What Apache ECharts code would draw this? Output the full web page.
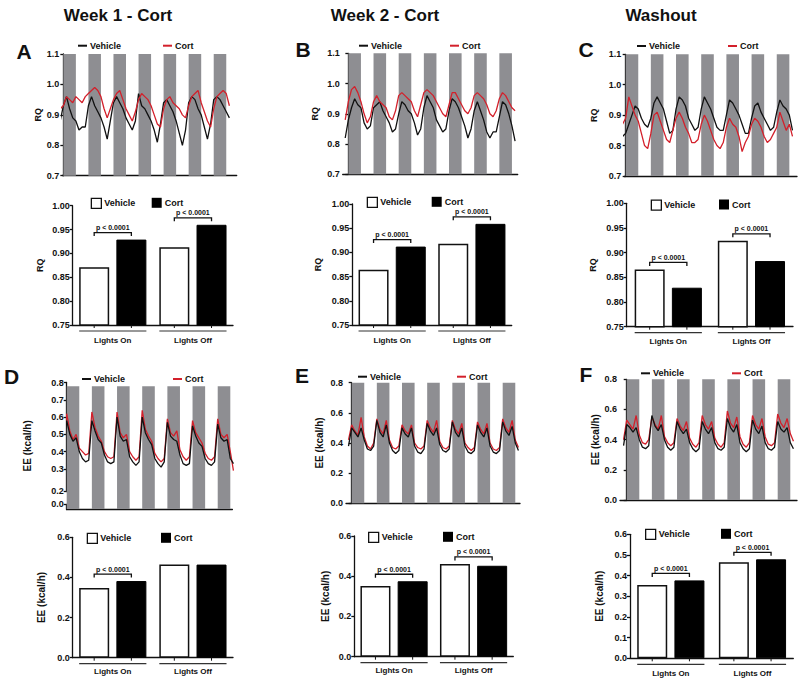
<!DOCTYPE html>
<html><head><meta charset="utf-8">
<script src="https://cdn.jsdelivr.net/npm/echarts@6/dist/echarts.min.js"></script>
<style>html,body{margin:0;padding:0;background:#fff}#c{width:800px;height:681px}</style>
</head><body><div id="c"></div>
<script>
// ---------- DATA ----------
const hours = [-3,0,3,6,9,12,15,18,21,24,27,30,33,36,39,42,45,48,51,54,57,60,63,66,69,72,75,78,81,84,87,90,93,96,99,102,105,108,111,114,117,120,123,126,129,132,135,138,141,144,147,150,153,156,159];
const darkStarts = [0,24,48,72,96,120,144];
const darkHours = 12;

const rqVehA = [0.88,0.93,0.96,0.92,0.89,0.88,0.85,0.86,0.86,0.93,0.96,0.93,0.91,0.89,0.86,0.82,0.88,0.94,0.96,0.94,0.92,0.89,0.87,0.85,0.88,0.97,0.93,0.92,0.90,0.88,0.85,0.81,0.87,0.94,0.95,0.93,0.91,0.88,0.84,0.80,0.85,0.94,0.96,0.95,0.92,0.90,0.86,0.82,0.87,0.95,0.96,0.95,0.93,0.91,0.89];
const rqCortA = [0.92,0.93,0.96,0.95,0.94,0.96,0.95,0.94,0.96,0.97,0.98,0.99,0.98,0.96,0.92,0.89,0.92,0.95,0.97,0.98,0.95,0.92,0.90,0.88,0.91,0.95,0.97,0.96,0.95,0.93,0.90,0.87,0.86,0.92,0.95,0.96,0.94,0.93,0.92,0.90,0.89,0.93,0.96,0.97,0.98,0.94,0.91,0.88,0.86,0.92,0.96,0.97,0.98,0.97,0.93];
const rqVehB = [0.82,0.88,0.92,0.95,0.93,0.92,0.87,0.85,0.86,0.92,0.93,0.94,0.91,0.89,0.87,0.84,0.85,0.90,0.94,0.93,0.91,0.90,0.87,0.83,0.85,0.92,0.96,0.94,0.92,0.88,0.86,0.84,0.85,0.91,0.95,0.94,0.92,0.89,0.86,0.82,0.85,0.91,0.94,0.91,0.88,0.84,0.82,0.84,0.84,0.89,0.94,0.93,0.90,0.86,0.81];
const rqCortB = [0.88,0.94,0.98,0.99,0.97,0.94,0.90,0.87,0.89,0.94,0.96,0.94,0.93,0.92,0.89,0.88,0.91,0.96,0.97,0.96,0.95,0.94,0.91,0.89,0.93,0.97,0.98,0.97,0.96,0.94,0.92,0.90,0.89,0.93,0.97,0.97,0.95,0.93,0.91,0.90,0.92,0.96,0.97,0.96,0.95,0.93,0.90,0.89,0.91,0.95,0.97,0.96,0.94,0.92,0.91];
const rqVehC = [0.83,0.84,0.87,0.90,0.93,0.92,0.89,0.87,0.86,0.89,0.94,0.96,0.94,0.92,0.88,0.84,0.85,0.92,0.96,0.95,0.93,0.89,0.87,0.85,0.86,0.92,0.96,0.94,0.92,0.89,0.86,0.85,0.85,0.90,0.95,0.94,0.92,0.90,0.87,0.84,0.84,0.89,0.93,0.94,0.91,0.89,0.87,0.85,0.86,0.91,0.95,0.93,0.92,0.90,0.85];
const rqCortC = [0.87,0.89,0.96,0.93,0.90,0.88,0.84,0.80,0.79,0.84,0.90,0.91,0.88,0.85,0.82,0.81,0.85,0.89,0.91,0.89,0.86,0.84,0.81,0.81,0.82,0.87,0.90,0.88,0.85,0.82,0.80,0.79,0.81,0.86,0.89,0.87,0.86,0.83,0.78,0.81,0.83,0.87,0.89,0.88,0.86,0.83,0.81,0.82,0.84,0.86,0.91,0.88,0.85,0.87,0.83];
const eeVehD = [0.40,0.58,0.50,0.46,0.48,0.40,0.36,0.34,0.35,0.58,0.52,0.47,0.45,0.38,0.34,0.33,0.34,0.60,0.49,0.46,0.47,0.37,0.34,0.32,0.34,0.60,0.51,0.47,0.44,0.36,0.33,0.31,0.34,0.57,0.49,0.47,0.46,0.38,0.33,0.32,0.33,0.55,0.49,0.45,0.43,0.36,0.33,0.32,0.34,0.56,0.48,0.46,0.47,0.36,0.33];
const eeCortD = [0.42,0.62,0.52,0.47,0.50,0.42,0.40,0.38,0.39,0.63,0.54,0.49,0.46,0.40,0.37,0.36,0.37,0.63,0.51,0.48,0.50,0.40,0.37,0.35,0.37,0.64,0.53,0.49,0.46,0.39,0.36,0.34,0.36,0.59,0.51,0.49,0.52,0.41,0.37,0.35,0.37,0.58,0.51,0.48,0.45,0.39,0.36,0.35,0.37,0.59,0.50,0.48,0.50,0.40,0.29];
const eeVehE = [0.38,0.50,0.47,0.44,0.50,0.42,0.36,0.35,0.38,0.55,0.47,0.44,0.52,0.40,0.35,0.33,0.35,0.50,0.46,0.44,0.50,0.38,0.34,0.33,0.36,0.53,0.48,0.45,0.50,0.39,0.35,0.34,0.36,0.54,0.47,0.44,0.50,0.38,0.34,0.33,0.35,0.52,0.47,0.44,0.50,0.38,0.34,0.33,0.35,0.54,0.48,0.45,0.51,0.40,0.35];
const eeCortE = [0.42,0.52,0.48,0.45,0.57,0.44,0.38,0.36,0.40,0.56,0.49,0.46,0.55,0.42,0.37,0.36,0.38,0.52,0.48,0.46,0.52,0.40,0.37,0.36,0.38,0.55,0.50,0.47,0.55,0.41,0.37,0.36,0.38,0.55,0.49,0.46,0.53,0.40,0.37,0.35,0.37,0.54,0.49,0.46,0.53,0.40,0.36,0.35,0.37,0.56,0.50,0.47,0.55,0.42,0.37];
const eeVehF = [0.36,0.50,0.48,0.45,0.48,0.40,0.35,0.34,0.36,0.56,0.49,0.46,0.50,0.40,0.35,0.33,0.35,0.52,0.47,0.44,0.47,0.38,0.34,0.32,0.34,0.52,0.47,0.44,0.48,0.38,0.34,0.33,0.35,0.54,0.48,0.45,0.50,0.38,0.34,0.32,0.34,0.53,0.47,0.44,0.49,0.38,0.34,0.33,0.35,0.52,0.47,0.45,0.48,0.38,0.34];
const eeCortF = [0.40,0.53,0.50,0.47,0.56,0.43,0.38,0.37,0.40,0.55,0.50,0.47,0.56,0.42,0.38,0.36,0.38,0.54,0.49,0.46,0.52,0.41,0.37,0.35,0.38,0.56,0.50,0.47,0.52,0.41,0.37,0.35,0.38,0.59,0.51,0.48,0.55,0.42,0.37,0.35,0.38,0.56,0.50,0.47,0.54,0.42,0.37,0.36,0.38,0.57,0.51,0.48,0.54,0.44,0.39];

const barCats = ['Lights On', 'Lights Off'];
const rqBarVehA = [0.871, 0.913], rqBarCortA = [0.929, 0.960];
const rqBarVehB = [0.864, 0.918], rqBarCortB = [0.912, 0.959];
const rqBarVehC = [0.866, 0.924], rqBarCortC = [0.829, 0.883];
const eeBarVehD = [0.347, 0.465], eeBarCortD = [0.382, 0.464];
const eeBarVehE = [0.351, 0.461], eeBarCortE = [0.375, 0.452];
const eeBarVehF = [0.355, 0.465], eeBarCortF = [0.377, 0.479];
const sigA = [true, true], sigB = [true, true], sigC = [true, true];
const sigD = [true, false], sigE = [true, true], sigF = [true, true];
const pText = 'p < 0.0001';
const seriesNames = ['Vehicle', 'Cort'];
const columnTitles = ['Week 1 - Cort', 'Week 2 - Cort', 'Washout'];
const panelLetters = ['A', 'B', 'C', 'D', 'E', 'F'];

// ---------- STYLE / LAYOUT ----------
const FONT = "Arial, 'Liberation Sans', Helvetica, sans-serif";
const GRAY = '#8e8e92', RED = '#d3202b', BLACK = '#111111';
const BAR_W = 30, BAR_GAP = 0.24;

const linePanels = [
  {veh: rqVehA, cort: rqCortA, g: [62.3, 54, 174.4, 121.7], xr: [-1, 166], yr: [0.7, 1.1], step: 0.1, dg: 1, top: 1.1, name: 'RQ', ng: 19, nfs: 9, leg: [78, 163, 46.7], vehTop: false},
  {veh: rqVehB, cort: rqCortB, g: [342.7, 53.3, 175, 121], xr: [-5.4, 161.5], yr: [0.7, 1.1], step: 0.1, dg: 1, top: 1.1, name: 'RQ', ng: 23.5, nfs: 9, leg: [359, 450, 46.7], vehTop: false},
  {veh: rqVehC, cort: rqCortC, g: [624.3, 54.3, 172.7, 121.7], xr: [-1.3, 163.3], yr: [0.7, 1.1], step: 0.1, dg: 1, top: 1.1, name: 'RQ', ng: 26, nfs: 9, leg: [637, 728, 47], vehTop: false},
  {veh: eeVehD, cort: eeCortD, g: [66.7, 382.7, 165.7, 126.3], xr: [0, 158], yr: [0, 0.8], step: 0.1, dg: 1, top: 0.78, name: 'EE (kcal/h)', ng: 34, nfs: 10, leg: [82, 173, 380], vehTop: true, brk: true},
  {veh: eeVehE, cort: eeCortE, g: [346, 382.7, 174, 120.6], xr: [-5.4, 160.5], yr: [0, 0.8], step: 0.2, dg: 1, top: 0.8, name: 'EE (kcal/h)', ng: 22, nfs: 10, leg: [358, 457, 377.7], vehTop: true},
  {veh: eeVehF, cort: eeCortF, g: [620, 379.3, 177, 120.7], xr: [-6.4, 162.4], yr: [0, 0.8], step: 0.2, dg: 1, top: 0.8, name: 'EE (kcal/h)', ng: 19, nfs: 10, leg: [641, 732, 374.3], vehTop: true}
];
const barPanels = [
  {veh: rqBarVehA, cort: rqBarCortA, sig: sigA, g: [72.7, 205.7, 160.3, 119.3], yr: [0.75, 1.0], step: 0.05, dg: 2, name: 'RQ', ng: 28.5, nfs: 9, leg: [90.7, 151.7, 203.3], lm: 11},
  {veh: rqBarVehB, cort: rqBarCortB, sig: sigB, g: [352.3, 204, 159.4, 121], yr: [0.75, 1.0], step: 0.05, dg: 2, name: 'RQ', ng: 29.5, nfs: 9, leg: [366.7, 431.7, 202.3], lm: 11},
  {veh: rqBarVehC, cort: rqBarCortC, sig: sigC, g: [626.7, 203.3, 166.3, 123.4], yr: [0.75, 1.0], step: 0.05, dg: 2, name: 'RQ', ng: 29, nfs: 9, leg: [650.7, 719, 205], lm: 11},
  {veh: eeBarVehD, cort: eeBarCortD, sig: sigD, g: [72.7, 537.3, 160.3, 120.4], yr: [0, 0.6], step: 0.2, dg: 1, name: 'EE (kcal/h)', ng: 26.7, nfs: 10, leg: [86.7, 161, 538.3], lm: 10},
  {veh: eeBarVehE, cort: eeBarCortE, sig: sigE, g: [354.3, 536, 159, 120.7], yr: [0, 0.6], step: 0.2, dg: 1, name: 'EE (kcal/h)', ng: 24, nfs: 10, leg: [368, 443, 537.3], lm: 10},
  {veh: eeBarVehF, cort: eeBarCortF, sig: sigF, g: [630, 534.3, 163.3, 124], yr: [0, 0.6], step: 0.1, dg: 1, name: 'EE (kcal/h)', ng: 25.5, nfs: 10, leg: [645, 721, 534.3], lm: 11}
];
const titlePos = [[118, 15], [385, 15], [661, 15]];
const letterPos = [[24, 51], [303, 49.5], [586, 49.5], [11.5, 376], [302, 375], [586, 374]];

const option = {animation: false, backgroundColor: '#fff', grid: [], xAxis: [], yAxis: [], series: [], legend: [], graphic: []};
const axisLineStyle = {color: BLACK, width: 1.3};

function yAxisFor(p, gi) {
  return {
    type: 'value', gridIndex: gi, min: p.yr[0], max: p.yr[1], interval: p.step,
    name: p.name, nameLocation: 'middle', nameGap: p.ng,
    nameTextStyle: {fontSize: p.nfs, fontWeight: 'bold', color: BLACK, fontFamily: FONT},
    axisLine: {show: true, lineStyle: axisLineStyle},
    axisTick: {show: true, inside: false, length: 3, lineStyle: axisLineStyle},
    axisLabel: {fontSize: 9, fontWeight: 'bold', color: BLACK, margin: 3, fontFamily: FONT,
      formatter: v => v.toFixed(p.dg)},
    splitLine: {show: false}
  };
}
function addLegend(x, yc, name, iw, ih, style) {
  option.legend.push({
    show: true, left: x, top: yc - 5.5, padding: 0, itemGap: 0, itemWidth: iw, itemHeight: ih,
    selectedMode: false, orient: 'horizontal',
    textStyle: {fontSize: 9, fontWeight: 'bold', color: BLACK, fontFamily: FONT, padding: [0, 0, 0, -2]},
    data: [{name: name, icon: 'rect', itemStyle: style}]
  });
}

linePanels.forEach(p => {
  const gi = option.grid.length;
  option.grid.push({left: p.g[0], top: p.g[1], width: p.g[2], height: p.g[3]});
  option.xAxis.push({type: 'value', gridIndex: gi, min: p.xr[0], max: p.xr[1],
    axisLine: {show: true, onZero: false, lineStyle: axisLineStyle},
    axisTick: {show: false}, axisLabel: {show: false}, splitLine: {show: false}});
  const ya = yAxisFor(p, gi);
  if (p.brk) {
    ya.breaks = [{start: 0.03, end: 0.17, gap: '10%'}];
    ya.breakArea = {show: true, expandOnClick: false, zigzagAmplitude: 0,
      itemStyle: {color: 'rgba(255,255,255,0)', borderColor: 'rgba(0,0,0,0)', borderWidth: 0}};
  }
  option.yAxis.push(ya);
  option.series.push({
    type: 'line', name: 'dark', xAxisIndex: gi, yAxisIndex: gi, silent: true, z: 1,
    data: hours.map((t, k) => [t, p.veh[k]]), symbol: 'none', lineStyle: {opacity: 0},
    markArea: {silent: true, itemStyle: {color: GRAY},
      data: darkStarts.map(s => [{xAxis: s, yAxis: p.top}, {xAxis: s + darkHours, yAxis: p.yr[0]}])}
  });
  option.series.push({type: 'line', name: seriesNames[0], xAxisIndex: gi, yAxisIndex: gi,
    data: hours.map((t, k) => [t, p.veh[k]]), symbol: 'none', z: p.vehTop ? 4 : 3,
    lineStyle: {color: BLACK, width: 1.3}, itemStyle: {color: BLACK}});
  option.series.push({type: 'line', name: seriesNames[1], xAxisIndex: gi, yAxisIndex: gi,
    data: hours.map((t, k) => [t, p.cort[k]]), symbol: 'none', z: p.vehTop ? 3 : 4,
    lineStyle: {color: RED, width: 1.3}, itemStyle: {color: RED}});
  addLegend(p.leg[0], p.leg[2], seriesNames[0], 9, 2, {color: BLACK, borderWidth: 0});
  addLegend(p.leg[1], p.leg[2], seriesNames[1], 9, 2, {color: RED, borderWidth: 0});
});

const barOff = (BAR_W + BAR_W * BAR_GAP) / 2;
barPanels.forEach(p => {
  const gi = option.grid.length;
  option.grid.push({left: p.g[0], top: p.g[1], width: p.g[2], height: p.g[3]});
  option.xAxis.push({type: 'category', gridIndex: gi, data: barCats,
    axisLine: {show: true, lineStyle: axisLineStyle}, axisTick: {show: false},
    axisLabel: {fontSize: 8, fontWeight: 'bold', color: BLACK, margin: p.lm, fontFamily: FONT},
    splitLine: {show: false}});
  option.yAxis.push(yAxisFor(p, gi));
  option.series.push({type: 'bar', name: seriesNames[0], xAxisIndex: gi, yAxisIndex: gi, data: p.veh,
    barWidth: BAR_W, barGap: (BAR_GAP * 100) + '%', z: 2,
    itemStyle: {color: '#ffffff', borderColor: BLACK, borderWidth: 1.5}});
  option.series.push({type: 'bar', name: seriesNames[1], xAxisIndex: gi, yAxisIndex: gi, data: p.cort,
    barWidth: BAR_W, barGap: (BAR_GAP * 100) + '%', z: 2,
    itemStyle: {color: '#000000', borderColor: '#000000', borderWidth: 1}});
  const sigData = [];
  p.sig.forEach((s, k) => { if (s) sigData.push([k, p.veh[k], p.cort[k]]); });
  option.series.push({type: 'custom', name: 'sig', xAxisIndex: gi, yAxisIndex: gi, silent: true, z: 5,
    data: sigData, encode: {x: 0, y: [1, 2]},
    renderItem: (params, api) => {
      const k = api.value(0);
      const pv = api.coord([k, api.value(1)]);
      const pc = api.coord([k, api.value(2)]);
      const x1 = pv[0] - barOff, x2 = pv[0] + barOff;
      const yT = Math.min(pv[1], pc[1]) - 7;
      return {type: 'group', children: [
        {type: 'polyline', shape: {points: [[x1, yT + 3.5], [x1, yT], [x2, yT], [x2, yT + 3.5]]},
          style: {stroke: BLACK, lineWidth: 1.3, fill: 'none'}},
        {type: 'text', style: {x: (x1 + x2) / 2, y: yT - 1.5, text: pText, textAlign: 'center',
          textVerticalAlign: 'bottom', font: 'bold 7px ' + FONT, fill: BLACK}}
      ]};
    }});
  option.series.push({type: 'custom', name: 'groups', xAxisIndex: gi, yAxisIndex: gi, silent: true, z: 5,
    data: barCats.map((c, k) => [k, p.yr[0]]), encode: {x: 0, y: 1},
    renderItem: (params, api) => {
      const k = api.value(0);
      const c = api.coord([k, api.value(1)]);
      const half = barOff + BAR_W / 2;
      return {type: 'group', children: [
        {type: 'line', shape: {x1: c[0] - half, y1: c[1] + 6, x2: c[0] + half, y2: c[1] + 6},
          style: {stroke: '#333', lineWidth: 1.2}},
        {type: 'line', shape: {x1: c[0] - barOff, y1: c[1], x2: c[0] - barOff, y2: c[1] + 3},
          style: {stroke: BLACK, lineWidth: 1}},
        {type: 'line', shape: {x1: c[0] + barOff, y1: c[1], x2: c[0] + barOff, y2: c[1] + 3},
          style: {stroke: BLACK, lineWidth: 1}}
      ]};
    }});
  addLegend(p.leg[0], p.leg[2], seriesNames[0], 10, 10, {color: '#ffffff', borderColor: BLACK, borderWidth: 1.3});
  addLegend(p.leg[1], p.leg[2], seriesNames[1], 10, 10, {color: '#000000', borderWidth: 0});
});

columnTitles.forEach((t, i) => option.graphic.push({type: 'text', x: titlePos[i][0], y: titlePos[i][1],
  style: {text: t, textAlign: 'center', textVerticalAlign: 'middle', font: 'bold 17px ' + FONT, fill: BLACK}}));
panelLetters.forEach((t, i) => option.graphic.push({type: 'text', x: letterPos[i][0], y: letterPos[i][1],
  style: {text: t, textAlign: 'center', textVerticalAlign: 'middle', font: 'bold 21px ' + FONT, fill: BLACK}}));

const chart = echarts.init(document.getElementById('c'), null, {renderer: 'svg', width: 800, height: 681});
chart.setOption(option);
</script></body></html>
